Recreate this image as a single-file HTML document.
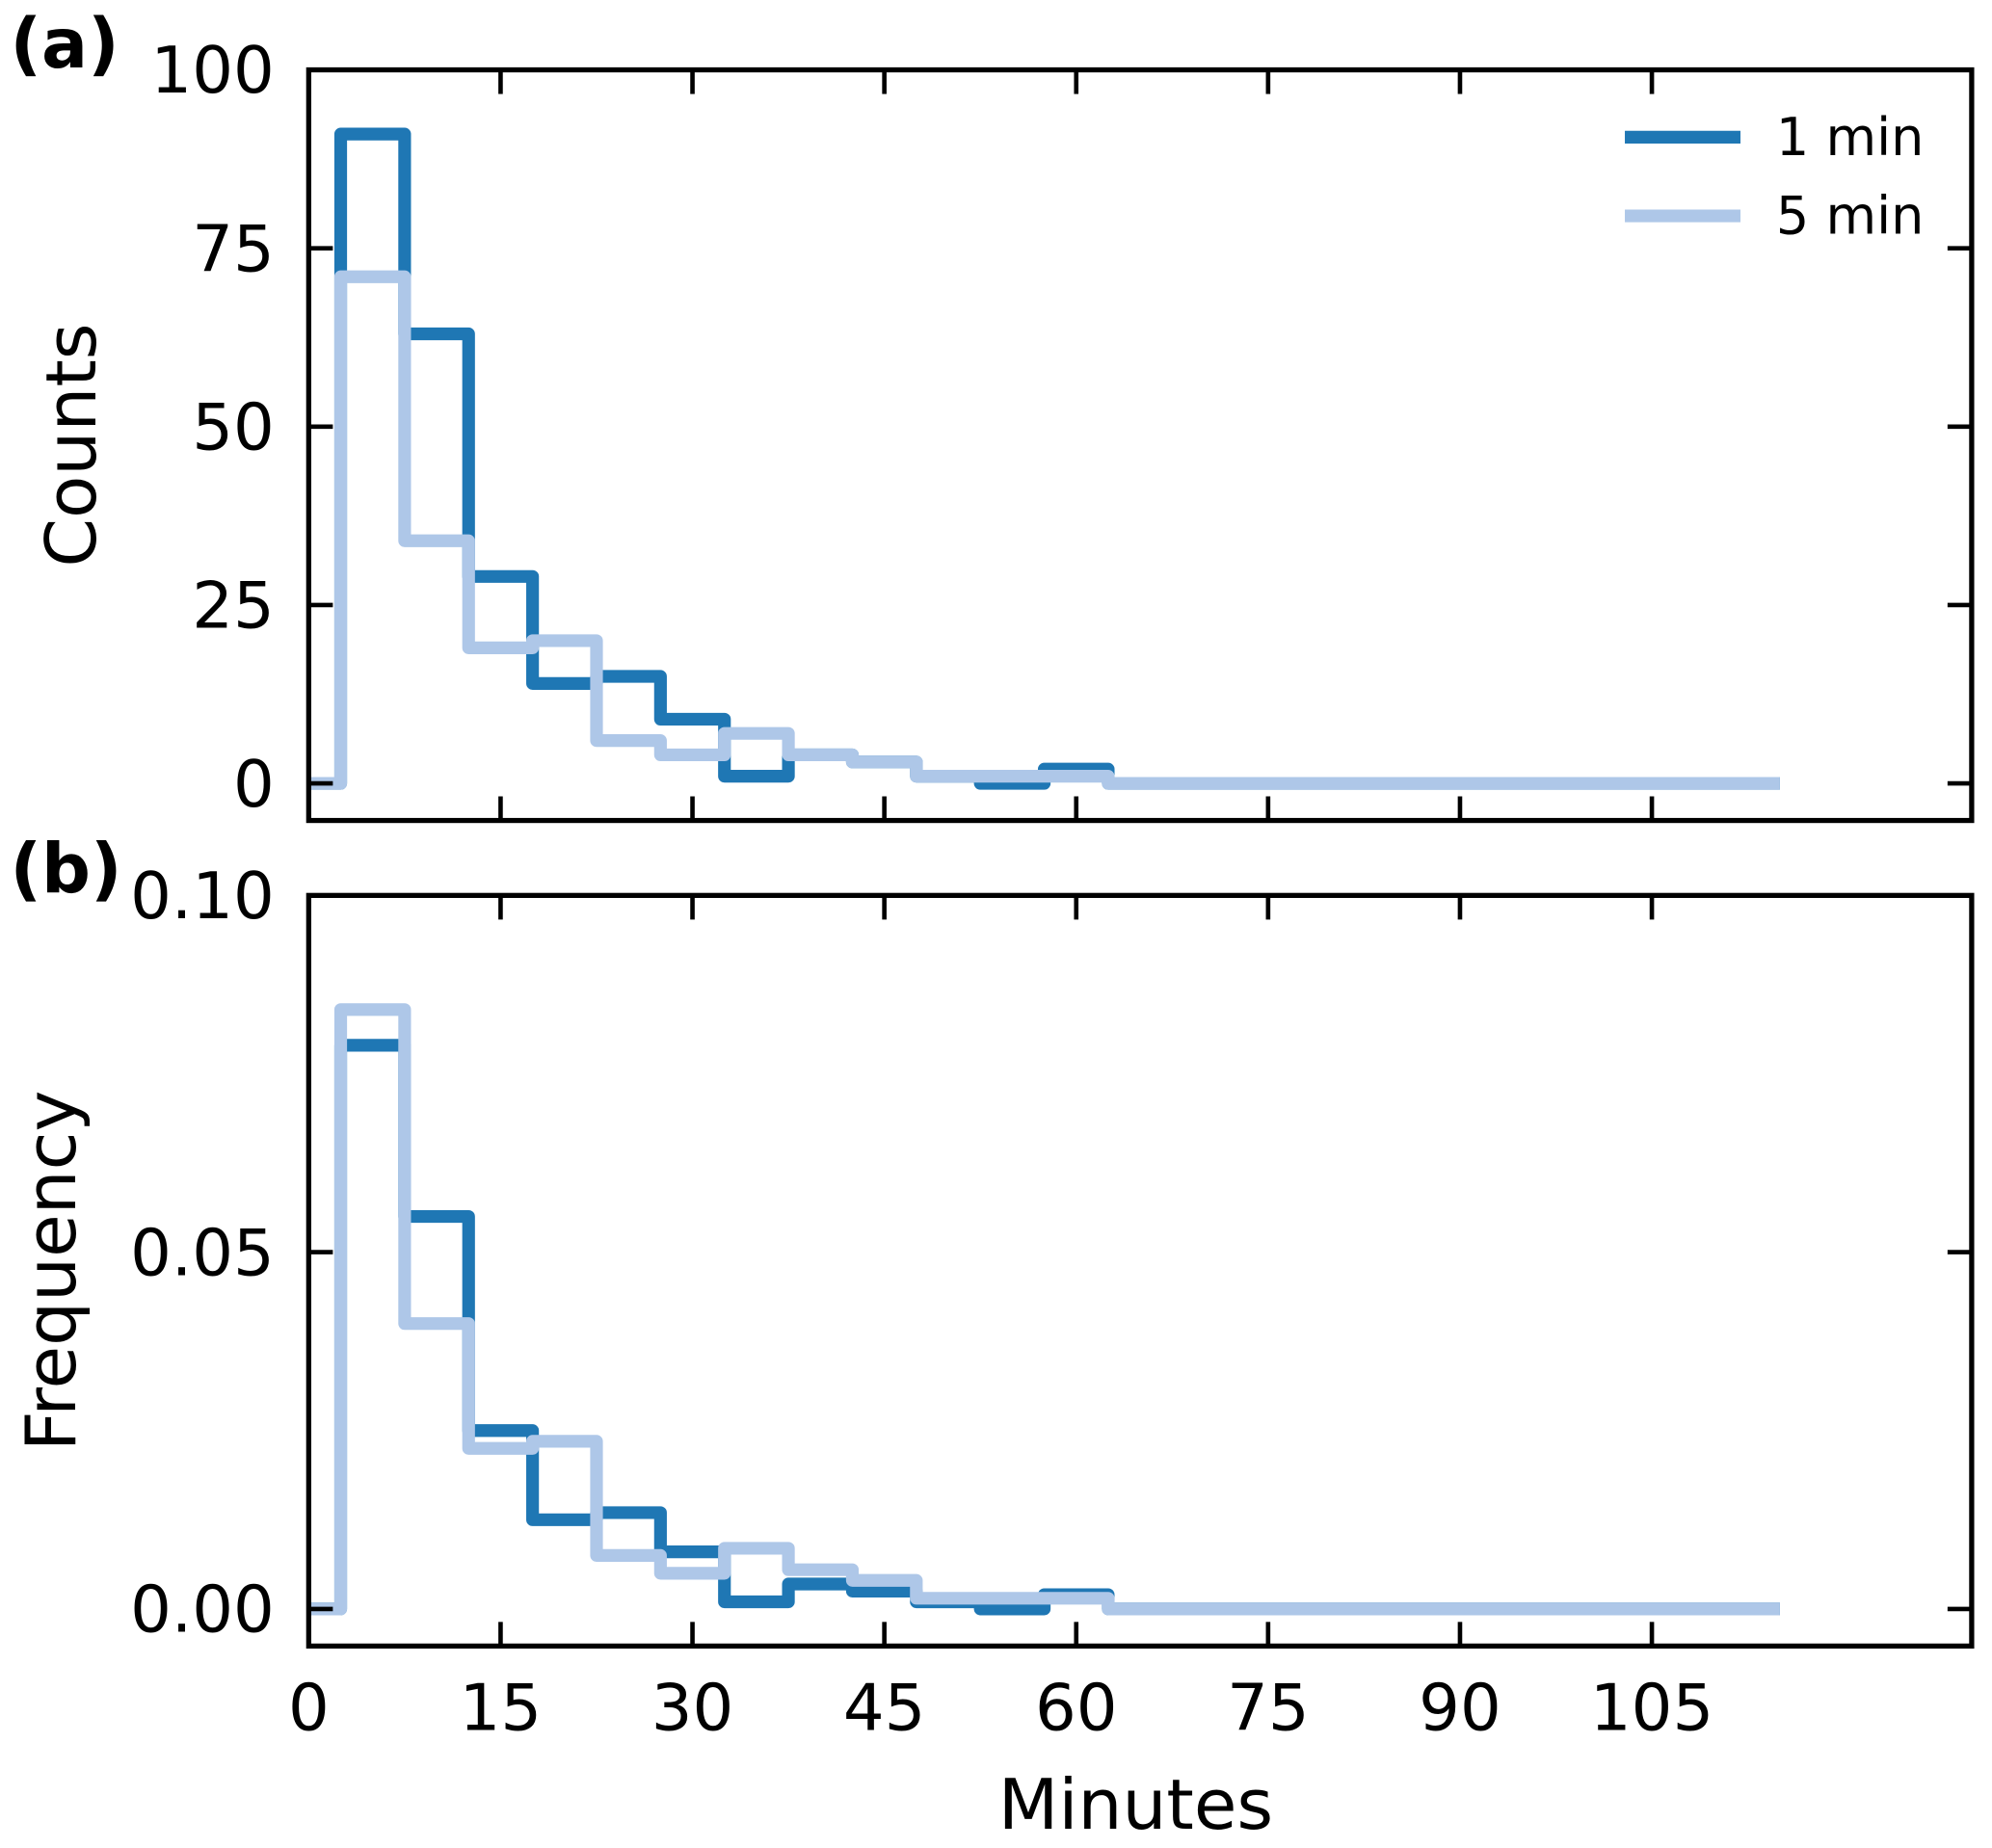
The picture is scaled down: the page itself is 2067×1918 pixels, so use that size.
<!DOCTYPE html>
<html><head><meta charset="utf-8"><style>
html,body{margin:0;padding:0;background:#fff;}
svg{display:block;font-family:"DejaVu Sans","Liberation Sans",sans-serif;}
</style></head><body>
<svg id="fig" width="2067" height="1918" viewBox="0 0 1568 1455" preserveAspectRatio="none" xmlns="http://www.w3.org/2000/svg"></svg>
<script>
const edges = [0,2.5,7.5,12.5,17.5,22.5,27.5,32.5,37.5,42.5,47.5,52.5,57.5,62.5,115];
const countsOneMin = [0,91,63,29,14,15,9,1,4,3,1,0,2,0];
const countsFiveMin = [0,71,34,19,20,6,4,7,4,3,1,1,1,0];
const freqOneMin = [0,0.079,0.055,0.025,0.0125,0.0135,0.008,0.001,0.0035,0.0025,0.001,0,0.002,0];
const freqFiveMin = [0,0.084,0.040,0.0225,0.0235,0.0075,0.005,0.0085,0.0055,0.004,0.0015,0.0015,0.0015,0];
const xTicks = [0,15,30,45,60,75,90,105];
const yTicksA = [0,25,50,75,100];
const yTicksALabels = ["0","25","50","75","100"];
const yTicksB = [0,0.05,0.10];
const yTicksBLabels = ["0.00","0.05","0.10"];
const NS='http://www.w3.org/2000/svg';
const svg=document.getElementById('fig');
const L=243,R=1552;
const xs=v=>L+(v-0)/(130-0)*(R-L);
function mk(tag,attrs,parent){const e=document.createElementNS(NS,tag);for(const k in attrs)e.setAttribute(k,attrs[k]);(parent||svg).appendChild(e);return e;}
function panel(top,bottom,ymin,ymax,ticks,labels,s1,s2,ylabel,tag,name){
  const g=mk('g',{});
  
  
  const ys=v=>bottom-(v-ymin)/(ymax-ymin)*(bottom-top);
  function step(vals,color,nm){
    let d='M'+xs(edges[0])+','+ys(0);
    for(let i=0;i<vals.length;i++){d+=' L'+xs(edges[i])+','+ys(vals[i])+' L'+xs(edges[i+1])+','+ys(vals[i]);}
    d+=' L'+xs(edges[edges.length-1])+','+ys(0);
    const p=mk('path',{d:d,fill:'none',stroke:color,'stroke-width':10,'stroke-linejoin':'round'},g);
    
    
  }
  step(s1,'#1f77b4',name+'-1min-series');
  step(s2,'#aec7e8',name+'-5min-series');
  const fr=mk('rect',{x:L,y:top,width:R-L,height:bottom-top,fill:'none',stroke:'#000','stroke-width':4},g);
  
  
  xTicks.forEach(v=>{const x=xs(v);
    mk('line',{x1:x,x2:x,y1:bottom,y2:bottom-19,stroke:'#000','stroke-width':3.5},g);
    mk('line',{x1:x,x2:x,y1:top,y2:top+19,stroke:'#000','stroke-width':3.5},g);});
  ticks.forEach((v,i)=>{const y=ys(v);
    mk('line',{x1:L,x2:L+19,y1:y,y2:y,stroke:'#000','stroke-width':3.5},g);
    mk('line',{x1:R,x2:R-19,y1:y,y2:y,stroke:'#000','stroke-width':3.5},g);
    const t=mk('text',{x:L-27,y:y+18,'text-anchor':'end','font-size':51},g);t.textContent=labels[i];
    
    });
  const yl=mk('text',{x:0,y:0,'text-anchor':'middle','font-size':55,transform:'translate('+(name==='panel-a'?75:59)+','+((top+bottom)/2)+') rotate(-90)'},g);
  yl.textContent=ylabel;
  
  
  const tl=mk('text',{x:8,y:top-2,'font-size':54,'font-weight':'bold'},g);tl.textContent=tag;
  
  
}
panel(55,646,-5.2,100,yTicksA,yTicksALabels,countsOneMin,countsFiveMin,'Counts','(a)','panel-a');
panel(705,1296,-0.0052,0.1,yTicksB,yTicksBLabels,freqOneMin,freqFiveMin,'Frequency','(b)','panel-b');
xTicks.forEach(v=>{const t=mk('text',{x:xs(v),y:1362,'text-anchor':'middle','font-size':51});t.textContent=String(v);
  
  });
const xt=mk('text',{x:894,y:1440,'text-anchor':'middle','font-size':55});xt.textContent='Minutes';


const lg=mk('g',{});


[['1 min','#1f77b4',108],['5 min','#aec7e8',170]].forEach(e=>{
  const l=mk('line',{x1:1279,x2:1370,y1:e[2],y2:e[2],stroke:e[1],'stroke-width':10},lg);
  
  
  const t=mk('text',{x:1398,y:e[2]+14,'font-size':41},lg);t.textContent=e[0];
  
  
});
</script>
</body></html>
